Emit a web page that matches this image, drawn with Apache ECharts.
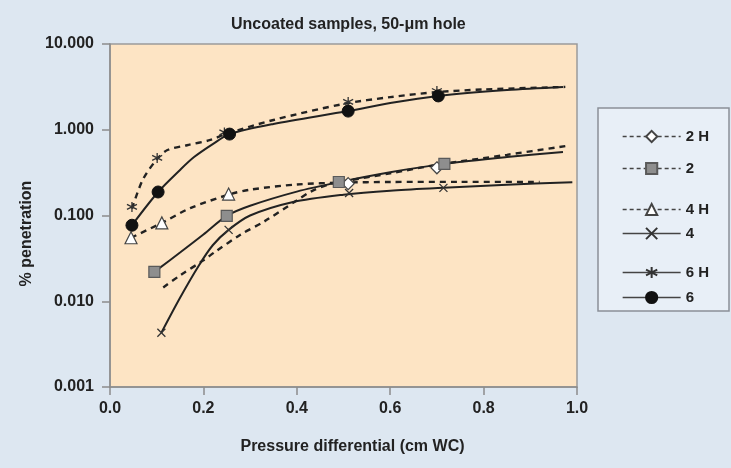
<!DOCTYPE html>
<html>
<head>
<meta charset="utf-8">
<script src="https://cdn.jsdelivr.net/npm/echarts@6.0.0/dist/echarts.min.js"></script>
<style>
  html, body { margin: 0; padding: 0; background: #dde7f1; }
  #chart { width: 731px; height: 468px; }
</style>
</head>
<body>
<div id="chart"></div>
<script>
(function() {
  'use strict';

  // measured points, [pressure differential, % penetration]
  var pts2H = [[0.51, 0.235], [0.70, 0.36]];
  var pts2 = [[0.095, 0.022], [0.25, 0.099], [0.49, 0.246], [0.716, 0.40]];
  var pts4H = [[0.045, 0.055], [0.111, 0.082], [0.254, 0.178]];
  var pts4 = [[0.11, 0.0043], [0.254, 0.068], [0.512, 0.183], [0.714, 0.21]];
  var pts6H = [[0.047, 0.126], [0.101, 0.469], [0.245, 0.93], [0.51, 2.11], [0.70, 2.83]];
  var pts6 = [[0.047, 0.077], [0.103, 0.188], [0.256, 0.89], [0.51, 1.65], [0.703, 2.48]];

  // fitted curves
  var fit2H = [[0.114, 0.0145], [0.15, 0.02], [0.2, 0.03], [0.226, 0.038], [0.28, 0.06], [0.33, 0.085],
    [0.4, 0.15], [0.43, 0.19], [0.47, 0.232], [0.5, 0.25], [0.6, 0.31], [0.7, 0.39], [0.85, 0.51], [0.975, 0.645]];
  var fit2 = [[0.095, 0.022], [0.15, 0.037], [0.2, 0.06], [0.25, 0.099], [0.3, 0.13], [0.4, 0.19],
    [0.49, 0.245], [0.6, 0.32], [0.716, 0.40], [0.85, 0.48], [0.97, 0.55]];
  var fit4H = [[0.045, 0.055], [0.111, 0.082], [0.172, 0.122], [0.254, 0.175], [0.3, 0.2], [0.4, 0.23],
    [0.5, 0.242], [0.6, 0.246], [0.75, 0.247], [0.92, 0.246]];
  var fit4 = [[0.11, 0.0043], [0.15, 0.011], [0.19, 0.026], [0.22, 0.045], [0.254, 0.068], [0.3, 0.1],
    [0.39, 0.143], [0.5, 0.175], [0.6, 0.195], [0.714, 0.21], [0.85, 0.228], [0.99, 0.245]];
  var fit6H = [[0.047, 0.12], [0.07, 0.26], [0.1, 0.45], [0.123, 0.58], [0.165, 0.66], [0.215, 0.76],
    [0.25, 0.9], [0.35, 1.3], [0.5, 2.0], [0.6, 2.4], [0.7, 2.75], [0.8, 2.95], [0.975, 3.16]];
  var fit6 = [[0.047, 0.077], [0.103, 0.188], [0.15, 0.34], [0.18, 0.48], [0.22, 0.68], [0.256, 0.89],
    [0.35, 1.17], [0.51, 1.65], [0.6, 2.05], [0.703, 2.48], [0.85, 2.9], [0.97, 3.15]];

  var legendNames = ['2 H', '2', '4 H', '4', '6 H', '6'];
  var legendDashed = [true, true, true, false, false, false];
  var legendRowY = [131, 163, 204, 228, 267, 292];

  var FONT = '"Liberation Sans", Arial, sans-serif';
  var INK = '#222';
  var crossPath = 'path://M0,0L10,10M10,0L0,10';
  var starPath = 'path://M5,0L5,10M0,2.5L10,7.5M10,2.5L0,7.5';

  function pointSeries(name, data, symbol, size, itemStyle) {
    return {
      name: name,
      type: 'line',
      data: data,
      symbol: symbol,
      symbolSize: size,
      showAllSymbol: true,
      lineStyle: { opacity: 0 },
      itemStyle: itemStyle,
      z: 5,
      silent: true
    };
  }

  function fitSeries(name, data, dashed) {
    return {
      name: name,
      type: 'line',
      data: data,
      smooth: 0.3,
      symbol: 'none',
      lineStyle: { color: INK, width: dashed ? 2.4 : 2, type: dashed ? [6, 5] : 'solid' },
      z: 3,
      silent: true
    };
  }

  var legends = legendNames.map(function(n, i) {
    return {
      data: [{
        name: n,
        lineStyle: { color: '#444', width: 1.3, type: legendDashed[i] ? [4, 3] : 'solid', opacity: 1 }
      }],
      left: 617,
      top: legendRowY[i] - 7,
      itemWidth: 58,
      itemHeight: 14,
      itemGap: 6,
      selectedMode: false,
      textStyle: { fontFamily: FONT, fontWeight: 'bold', fontSize: 15, color: INK }
    };
  });

  var chart = echarts.init(document.getElementById('chart'));
  var option = {
    backgroundColor: '#dde7f1',
    animation: false,
    title: {
      text: 'Uncoated samples, 50-\u03bcm hole',
      left: 226,
      top: 12,
      textStyle: { fontFamily: FONT, fontWeight: 'bold', fontSize: 16, color: INK }
    },
    graphic: [{
      type: 'rect',
      shape: { x: 598, y: 108, width: 131, height: 203 },
      style: { fill: '#e8eff7', stroke: '#8a9098', lineWidth: 1.5 },
      z: -1
    }],
    legend: legends,
    grid: {
      left: 110, right: 154, top: 44, bottom: 81,
      show: true,
      backgroundColor: '#fde4c4',
      borderColor: '#9a9a9a',
      borderWidth: 1.5
    },
    xAxis: {
      type: 'value',
      min: 0, max: 1, interval: 0.2,
      name: 'Pressure differential (cm WC)',
      nameLocation: 'middle',
      nameGap: 52,
      nameTextStyle: { fontFamily: FONT, fontWeight: 'bold', fontSize: 16, color: INK, padding: [0, 0, 0, 18] },
      axisLine: { onZero: false, lineStyle: { color: '#8c8c8c', width: 1.5 } },
      axisTick: { length: 8, lineStyle: { color: '#8c8c8c', width: 1.5 } },
      axisLabel: {
        formatter: function(v) { return v.toFixed(1); },
        fontFamily: FONT, fontWeight: 'bold', fontSize: 16, color: INK, margin: 14
      },
      splitLine: { show: false }
    },
    yAxis: {
      type: 'log',
      logBase: 10,
      min: 0.001, max: 10,
      name: '% penetration',
      nameLocation: 'middle',
      nameGap: 74,
      nameTextStyle: { fontFamily: FONT, fontWeight: 'bold', fontSize: 16, color: INK, padding: [0, 36, 0, 0] },
      axisLine: { show: true, lineStyle: { color: '#8c8c8c', width: 1.5 } },
      axisTick: { show: true, length: 8, lineStyle: { color: '#8c8c8c', width: 1.5 } },
      axisLabel: {
        formatter: function(v) { return Number(v).toFixed(3); },
        fontFamily: FONT, fontWeight: 'bold', fontSize: 16, color: INK, margin: 16
      },
      splitLine: { show: false },
      minorTick: { show: false }
    },
    series: [
      fitSeries('2 H fit', fit2H, true),
      fitSeries('2 fit', fit2, false),
      fitSeries('4 H fit', fit4H, true),
      fitSeries('4 fit', fit4, false),
      fitSeries('6 H fit', fit6H, true),
      fitSeries('6 fit', fit6, false),
      pointSeries('2 H', pts2H, 'diamond', 12, { color: '#ffffff', borderColor: '#444', borderWidth: 1.2 }),
      pointSeries('2', pts2, 'rect', 11, { color: '#8e8e8e', borderColor: '#5a5a5a', borderWidth: 1.2 }),
      pointSeries('4 H', pts4H, 'triangle', 12, { color: '#ffffff', borderColor: '#444', borderWidth: 1.2 }),
      pointSeries('4', pts4, crossPath, 8, { color: '#333', borderColor: '#333', borderWidth: 1.3 }),
      pointSeries('6 H', pts6H, starPath, 10, { color: '#333', borderColor: '#333', borderWidth: 1.3 }),
      pointSeries('6', pts6, 'circle', 12, { color: '#111', borderColor: '#111', borderWidth: 1 })
    ]
  };
  chart.setOption(option);
})();
</script>
</body>
</html>
